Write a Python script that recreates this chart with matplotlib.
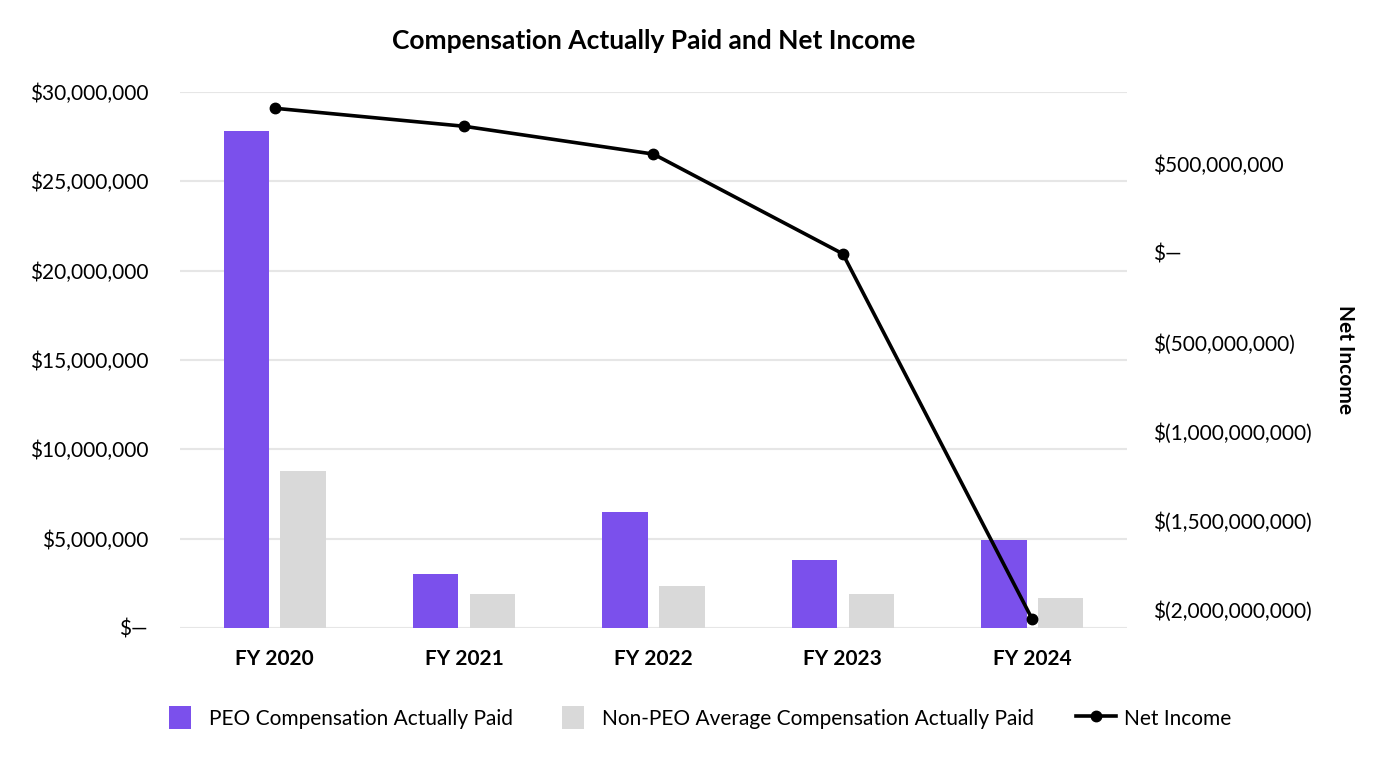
import matplotlib.pyplot as plt
import matplotlib.transforms as mtransforms
import numpy as np
from matplotlib.ticker import FuncFormatter
from matplotlib.legend_handler import HandlerPatch, update_from_first_child
from matplotlib.container import BarContainer
from matplotlib.patches import Rectangle

plt.rcParams['font.family'] = ['Lato', 'DejaVu Sans']

years = ['FY 2020', 'FY 2021', 'FY 2022', 'FY 2023', 'FY 2024']
peo_cap = [27800000, 3020000, 6490000, 3800000, 4920000]
non_peo_cap = [8790000, 1900000, 2350000, 1900000, 1680000]
net_income = [811000000, 710000000, 554000000, -5000000, -2053000000]

purple = '#7B50EC'
grey = '#D9D9D9'


def money(v, pos=None):
    if abs(v) < 1:
        return '$\u2014'
    if v < 0:
        return '$({:,.0f})'.format(-v)
    return '${:,.0f}'.format(v)


# square legend swatch, set a bit in from the left of the handle box
def square(legend, orig_handle, xdescent, ydescent, width, height, fontsize):
    s = 0.55 * width
    return Rectangle((-xdescent + 0.2 * width, -ydescent + (height - s) / 2), s, s)


fig = plt.figure(figsize=(13.92, 7.68), dpi=100)
ax = fig.add_axes([0.1293, 0.1823, 0.6803, 0.6979])
x = np.arange(len(years))
w = 0.24

ax.bar(x - 0.15, peo_cap, w, color=purple, label='PEO Compensation Actually Paid', zorder=2)
ax.bar(x + 0.15, non_peo_cap, w, color=grey, label='Non-PEO Average Compensation Actually Paid', zorder=2)
ax.set_xlim(-0.5, 4.5)
ax.set_ylim(0, 30000000)
ax.set_yticks(np.arange(0, 30000001, 5000000))
ax.yaxis.set_major_formatter(FuncFormatter(money))
ax.set_xticks(x)
ax.set_xticklabels(years, fontweight='bold', fontsize=15)
shift = mtransforms.ScaledTranslation(-8 / 100, 0, fig.dpi_scale_trans)
for lab in ax.get_xticklabels():
    lab.set_transform(lab.get_transform() + shift)
ax.grid(axis='y', color='#E6E6E6', linewidth=1.5, zorder=0)
ax.set_axisbelow(True)
for s in ax.spines.values():
    s.set_visible(False)
ax.tick_params(axis='both', length=0, labelsize=15)
ax.tick_params(axis='y', pad=23)
ax.tick_params(axis='x', pad=15)

ax2 = ax.twinx()
ax2.plot(x, net_income, color='black', linewidth=2.6, marker='o', markersize=7.5, label='Net Income', zorder=3)
ax2.set_ylim(-2102000000, 902000000)
ax2.set_yticks(np.arange(-2000000000, 500000001, 500000000))
ax2.yaxis.set_major_formatter(FuncFormatter(money))
for s in ax2.spines.values():
    s.set_visible(False)
ax2.tick_params(axis='y', length=0, labelsize=15, pad=19)
ax2.set_ylabel('Net Income', rotation=-90, fontweight='bold', fontsize=15, labelpad=31)

ax.set_title('Compensation Actually Paid and Net Income', fontweight='bold', fontsize=19, pad=31)

h1, l1 = ax.get_legend_handles_labels()
h2, l2 = ax2.get_legend_handles_labels()
fig.legend(h1 + h2, l1 + l2, loc='center', bbox_to_anchor=(0.5, 0.065), ncol=3, frameon=False,
           fontsize=15, handlelength=1.93, handleheight=1.1, handletextpad=0.38, columnspacing=2.0,
           handler_map={BarContainer: HandlerPatch(patch_func=square, update_func=update_from_first_child)})

fig.savefig('out.png', dpi=100)
